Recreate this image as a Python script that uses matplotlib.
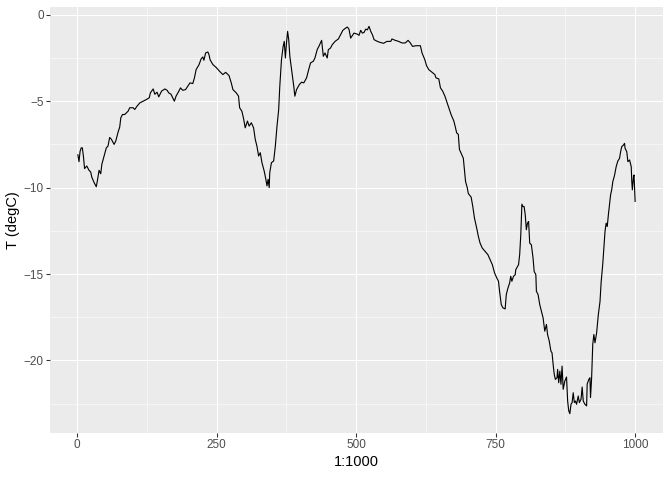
import matplotlib
matplotlib.use("Agg")
import matplotlib.pyplot as plt
from matplotlib.ticker import MultipleLocator

# values (index, temperature)
idx = [1, 3, 5, 7, 9, 11, 13, 17, 21, 24, 26, 30, 34, 36, 39, 42, 44, 48, 52, 55,
       58, 61, 66, 69, 73, 76, 78, 81, 85, 91, 94, 100, 103, 107, 112, 118, 124, 129, 131, 136,
       139, 143, 146, 151, 157, 161, 164, 168, 171, 174, 177, 182, 185, 189, 194, 198, 202, 207, 210, 213,
       218, 222, 225, 227, 230, 234, 236, 238, 243, 249, 255, 261, 266, 272, 276, 279, 285, 289, 291, 295,
       298, 301, 305, 308, 312, 316, 319, 322, 325, 328, 331, 335, 338, 340, 342, 344, 345, 348, 352, 355,
       358, 361, 363, 366, 369, 371, 373, 375, 377, 379, 381, 385, 388, 390, 393, 398, 402, 406, 411, 414,
       418, 423, 426, 430, 433, 438, 441, 444, 448, 450, 454, 457, 462, 468, 472, 476, 481, 484, 487, 490,
       493, 496, 502, 505, 508, 511, 514, 517, 520, 523, 526, 529, 532, 538, 543, 549, 555, 562, 564, 570,
       576, 582, 588, 593, 597, 601, 607, 615, 618, 623, 626, 630, 636, 641, 643, 648, 651, 655, 659, 663,
       666, 670, 675, 678, 680, 683, 685, 689, 692, 694, 696, 699, 701, 706, 709, 712, 716, 719, 722, 726,
       731, 736, 740, 744, 748, 752, 755, 757, 760, 763, 767, 769, 772, 775, 777, 779, 782, 785, 786, 791,
       793, 795, 797, 799, 801, 803, 805, 807, 809, 811, 814, 817, 819, 822, 823, 826, 829, 832, 835, 838,
       841, 843, 846, 849, 851, 853, 855, 857, 860, 861, 863, 865, 867, 869, 871, 874, 877, 879, 881, 883,
       885, 887, 889, 891, 893, 895, 898, 900, 903, 905, 907, 910, 913, 914, 917, 919, 920, 922, 924, 926,
       928, 931, 934, 937, 939, 942, 944, 946, 948, 950, 952, 954, 956, 958, 960, 963, 966, 969, 972, 974,
       976, 979, 981, 982, 985, 987, 990, 993, 994, 995, 997, 998, 999, 1000]

temp = [-8.1, -8.5, -7.9, -7.7, -7.7, -8.2, -8.9, -8.75, -9.0, -9.1, -9.4, -9.7, -9.95, -9.6, -9.0, -9.2, -8.65, -8.17, -7.7, -7.6,
        -7.1, -7.2, -7.5, -7.3, -6.8, -6.5, -5.96, -5.77, -5.77, -5.58, -5.38, -5.38, -5.48, -5.29, -5.1, -5.0, -4.9, -4.8, -4.52, -4.29,
        -4.6, -4.48, -4.75, -4.42, -4.29, -4.37, -4.52, -4.6, -4.8, -5.0, -4.71, -4.42, -4.23, -4.37, -4.33, -4.13, -3.94, -3.98, -3.65, -3.17,
        -2.9, -2.55, -2.44, -2.63, -2.21, -2.15, -2.3, -2.6, -2.88, -3.05, -3.27, -3.46, -3.33, -3.52, -3.94, -4.33, -4.52, -4.71, -5.38, -5.58,
        -6.0, -6.54, -6.15, -6.44, -6.25, -6.54, -7.21, -7.6, -8.17, -7.98, -8.56, -9.04, -9.52, -9.9, -9.52, -10.0, -9.13, -8.56, -8.46, -7.6,
        -6.44, -5.48, -4.13, -2.6, -1.83, -1.54, -2.5, -1.63, -0.96, -1.44, -2.4, -3.37, -4.13, -4.71, -4.33, -4.04, -3.9, -3.94, -3.65, -3.27,
        -2.79, -2.69, -2.5, -2.02, -1.83, -1.48, -2.4, -2.21, -2.5, -2.02, -1.92, -1.73, -1.54, -1.4, -1.15, -0.9, -0.77, -0.71, -0.83, -1.35,
        -1.21, -1.06, -1.12, -1.19, -0.9, -1.06, -1.02, -0.83, -0.87, -0.67, -0.96, -1.15, -1.44, -1.54, -1.6, -1.65, -1.54, -1.54, -1.4, -1.48,
        -1.54, -1.63, -1.63, -1.48, -1.63, -1.83, -1.79, -1.79, -2.21, -2.6, -2.94, -3.17, -3.33, -3.46, -3.65, -3.71, -4.23, -4.42, -4.71, -5.1,
        -5.38, -5.77, -6.15, -6.54, -6.83, -6.92, -7.79, -8.08, -8.3, -9.0, -9.65, -10.0, -10.35, -10.55, -11.1, -11.77, -12.35, -12.83, -13.21, -13.5,
        -13.69, -13.88, -14.17, -14.46, -14.94, -15.23, -15.42, -16.0, -16.77, -16.96, -17.02, -16.19, -15.81, -15.52, -15.13, -15.42, -15.13, -15.04, -14.75, -14.46,
        -13.88, -12.73, -10.96, -11.1, -11.1, -11.58, -12.44, -12.06, -11.96, -13.21, -13.31, -14.08, -14.85, -15.04, -16.0, -16.19, -16.77, -17.15, -17.54, -18.31,
        -17.92, -18.5, -18.88, -19.46, -19.56, -20.23, -20.81, -21.1, -21.0, -20.52, -21.29, -20.62, -21.38, -20.33, -21.67, -21.19, -20.96, -22.35, -22.92, -23.08,
        -22.54, -22.44, -21.87, -22.44, -22.35, -22.54, -22.06, -22.44, -22.25, -21.54, -22.35, -22.54, -22.63, -21.37, -21.1, -21.0, -22.15, -21.0, -19.08, -18.5,
        -18.98, -18.4, -17.35, -16.6, -15.5, -14.4, -13.5, -12.54, -12.06, -12.25, -11.58, -11.0, -10.42, -10.13, -9.65, -9.3, -8.79, -8.46, -8.31, -7.92,
        -7.63, -7.54, -7.44, -7.73, -7.92, -8.5, -8.4, -8.79, -9.65, -10.13, -9.37, -9.27, -10.0, -10.8]

x_ticks = [0, 250, 500, 750, 1000]
y_ticks = [-20, -15, -10, -5, 0]

plt.rcParams['font.family'] = ['Liberation Sans', 'DejaVu Sans']

fig = plt.figure(figsize=(7, 5), dpi=96)
ax = fig.add_axes([50 / 672, 47 / 480, 613 / 672, 426 / 480])
ax.set_facecolor("#EBEBEB")
for s in ax.spines.values():
    s.set_visible(False)

ax.plot(idx, temp, color="black", linewidth=0.85)

ax.set_xticks(x_ticks)
ax.set_yticks(y_ticks)
ax.xaxis.set_minor_locator(MultipleLocator(125))
ax.yaxis.set_minor_locator(MultipleLocator(2.5))
ax.grid(which="major", color="white", linewidth=0.8)
ax.grid(which="minor", color="white", linewidth=0.4)
ax.set_axisbelow(True)
ax.tick_params(which="major", length=2.75, width=0.8, color="#333333",
               labelcolor="#4D4D4D", labelsize=8.8, pad=2)
ax.tick_params(which="minor", length=0)

ax.set_xlabel("1:1000", fontsize=11, labelpad=3)
ax.set_ylabel("T (degC)", fontsize=11, labelpad=3)

fig.savefig("out.png", dpi=96)
